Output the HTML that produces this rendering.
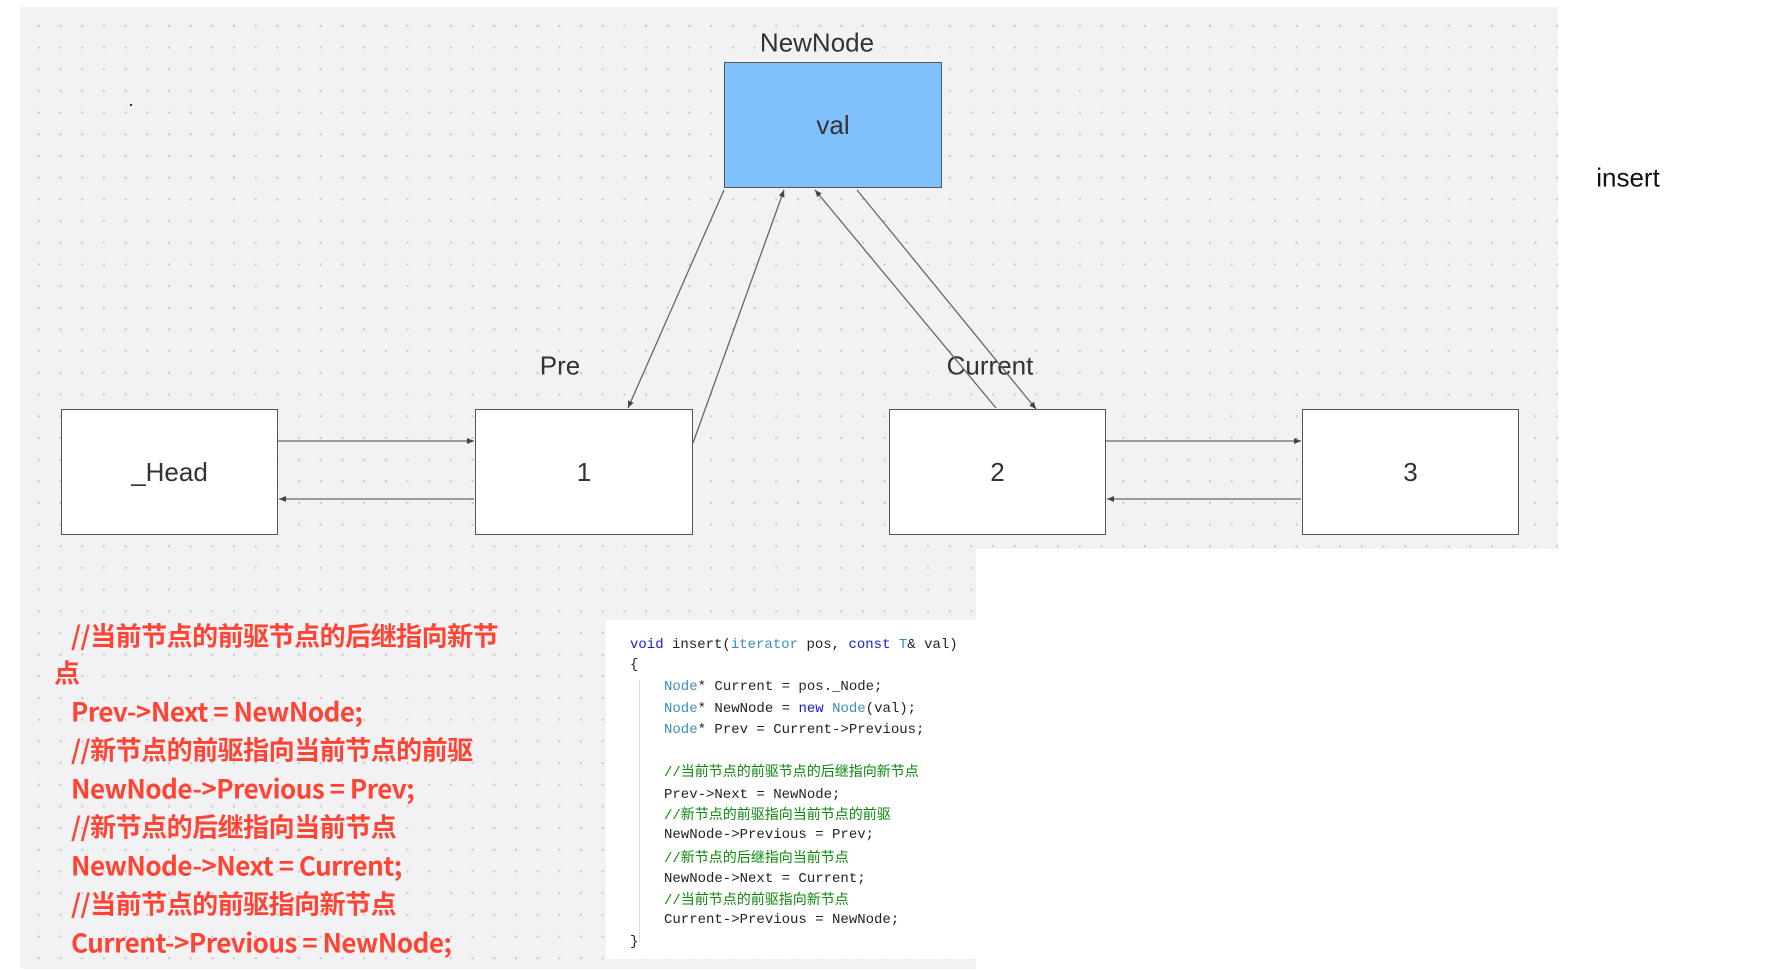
<!DOCTYPE html>
<html><head><meta charset="utf-8"><style>
body{margin:0;width:1775px;height:970px;background:#fff;position:relative;overflow:hidden;font-family:"Liberation Sans","Noto Sans CJK SC",sans-serif}
.bg{position:absolute;background-color:#f2f2f4;background-image:radial-gradient(circle,#c8c8cc 1px,transparent 1.3px);background-size:21.7px 21.7px;background-position:8px 8px}
.box{position:absolute;background:#fff;border:1.5px solid #555;box-sizing:border-box;display:flex;align-items:center;justify-content:center;font-size:26px;color:#333}
.lbl{position:absolute;font-size:26px;color:#333;transform:translate(-50%,-50%);white-space:nowrap}
.red{position:absolute;left:71px;color:#ff4433;font-weight:bold;font-size:26px;font-family:"Noto Sans CJK SC",sans-serif;white-space:nowrap;transform:translateY(-50%);letter-spacing:-0.5px}
.code{position:absolute;font-family:"Liberation Mono","Noto Sans CJK SC",monospace;font-size:14px;color:#222;white-space:pre;transform:translateY(-50%)}
.k{color:#1a1acc}.t{color:#3a8fb7}.c{color:#0a8a0a}
</style></head><body>
<div class="bg" style="left:20px;top:7px;width:1538px;height:542px"></div>
<div class="bg" style="left:20px;top:549px;width:956px;height:420px"></div>
<div style="position:absolute;left:606px;top:620px;width:370px;height:339px;background:#fff"></div>
<div style="position:absolute;left:639px;top:680px;width:1px;height:262px;background:#ddd"></div>
<div style="position:absolute;left:130px;top:104px;width:2px;height:2px;background:#333"></div>

<div class="box" style="left:724px;top:62px;width:218px;height:126px;background:#80c1fd">val</div>
<div class="box" style="left:61px;top:409px;width:217px;height:126px">_Head</div>
<div class="box" style="left:475px;top:409px;width:218px;height:126px">1</div>
<div class="box" style="left:889px;top:409px;width:217px;height:126px">2</div>
<div class="box" style="left:1302px;top:409px;width:217px;height:126px">3</div>

<div class="lbl" style="left:817px;top:43px">NewNode</div>
<div class="lbl" style="left:560px;top:366px">Pre</div>
<div class="lbl" style="left:990px;top:366px">Current</div>
<div class="lbl" style="left:1628px;top:178px;color:#111">insert</div>

<svg style="position:absolute;left:0;top:0" width="1775" height="970">
<defs><marker id="a" markerWidth="8" markerHeight="8" refX="7" refY="4" orient="auto" markerUnits="userSpaceOnUse"><path d="M0,1 L7,4 L0,7 z" fill="#444"/></marker></defs>
<g stroke="#666" stroke-width="1.3" fill="none" marker-end="url(#a)">
<line x1="278" y1="441" x2="474" y2="441"/>
<line x1="474" y1="499" x2="279" y2="499"/>
<line x1="1106" y1="441" x2="1301" y2="441"/>
<line x1="1301" y1="499" x2="1107" y2="499"/>
<line x1="724" y1="190" x2="628" y2="408"/>
<line x1="693" y1="443" x2="784" y2="190"/>
<line x1="996" y1="408" x2="815" y2="190"/>
<line x1="857" y1="190" x2="1036" y2="409"/>
</g></svg>

<div class="red" style="top:635px">//当前节点的前驱节点的后继指向新节</div>
<div class="red" style="top:672px;left:54px">点</div>
<div class="red" style="top:711px">Prev-&gt;Next = NewNode;</div>
<div class="red" style="top:749px">//新节点的前驱指向当前节点的前驱</div>
<div class="red" style="top:788px">NewNode-&gt;Previous = Prev;</div>
<div class="red" style="top:826px">//新节点的后继指向当前节点</div>
<div class="red" style="top:865px">NewNode-&gt;Next = Current;</div>
<div class="red" style="top:903px">//当前节点的前驱指向新节点</div>
<div class="red" style="top:942px">Current-&gt;Previous = NewNode;</div>

<div class="code" style="left:630px;top:645px"><span class="k">void</span> insert(<span class="t">iterator</span> pos, <span class="k">const</span> <span class="t">T</span>&amp; val)</div>
<div class="code" style="left:630px;top:665px">{</div>
<div class="code" style="left:664px;top:687px"><span class="t">Node</span>* Current = pos._Node;</div>
<div class="code" style="left:664px;top:709px"><span class="t">Node</span>* NewNode = <span class="k">new</span> <span class="t">Node</span>(val);</div>
<div class="code" style="left:664px;top:730px"><span class="t">Node</span>* Prev = Current-&gt;Previous;</div>
<div class="code c" style="left:664px;top:771px">//当前节点的前驱节点的后继指向新节点</div>
<div class="code" style="left:664px;top:795px">Prev-&gt;Next = NewNode;</div>
<div class="code c" style="left:664px;top:814px">//新节点的前驱指向当前节点的前驱</div>
<div class="code" style="left:664px;top:835px">NewNode-&gt;Previous = Prev;</div>
<div class="code c" style="left:664px;top:857px">//新节点的后继指向当前节点</div>
<div class="code" style="left:664px;top:879px">NewNode-&gt;Next = Current;</div>
<div class="code c" style="left:664px;top:899px">//当前节点的前驱指向新节点</div>
<div class="code" style="left:664px;top:920px">Current-&gt;Previous = NewNode;</div>
<div class="code" style="left:630px;top:942px">}</div>
</body></html>
